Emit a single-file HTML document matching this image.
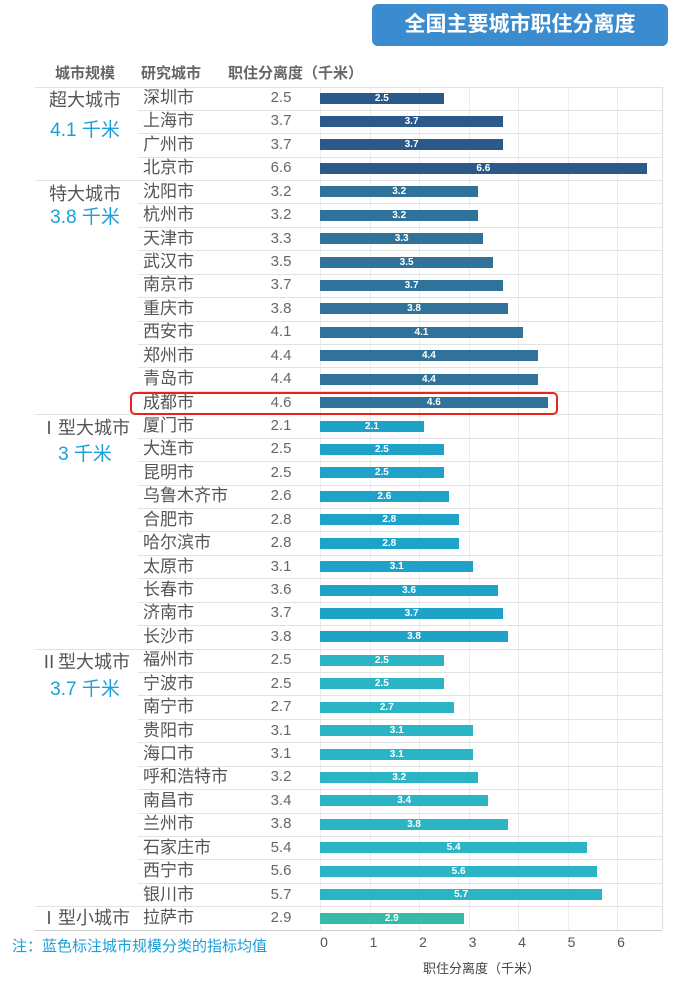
<!DOCTYPE html>
<html><head><meta charset="utf-8"><style>
body{margin:0;width:685px;height:985px;background:#fff;position:relative;overflow:hidden;font-family:"Liberation Sans","Noto Sans CJK SC",sans-serif;}
.a{position:absolute;white-space:nowrap;}
.t{left:372px;top:4px;width:296px;height:42px;background:#3a8ccf;border-radius:6px;color:#fff;font-size:21px;font-weight:bold;text-align:center;line-height:42px;}
.h{top:62px;font-size:15px;font-weight:bold;color:#666;}
.g{font-size:18px;color:#555;width:110px;text-align:center;left:30px;line-height:24px;}
.gv{font-size:19px;color:#1a9fd8;width:110px;text-align:center;left:30px;line-height:24px;}
.c{left:143px;font-size:17px;color:#555;line-height:22px;}
.v{left:260px;width:42px;text-align:center;font-size:15px;color:#666;line-height:20px;}
.b{height:11px;left:320px;color:#fff;font-size:10px;font-weight:bold;text-align:center;line-height:11px;}
.ln{height:1px;background:#e2e2e2;}
.vl{width:1px;background:#ececec;top:87px;height:843px;}
.tk{top:934px;font-size:14px;color:#555;width:20px;text-align:center;}
</style></head><body>
<div class="a t">全国主要城市职住分离度</div>
<div class="a h" style="left:55px">城市规模</div>
<div class="a h" style="left:141px">研究城市</div>
<div class="a h" style="left:228px">职住分离度（千米）</div>
<div id="c"></div>
<div class="a g" style="top:88px">超大城市</div>
<div class="a gv" style="top:119px">4.1 千米</div>
<div class="a g" style="top:182px">特大城市</div>
<div class="a gv" style="top:206px">3.8 千米</div>
<div class="a g" style="top:416px">Ⅰ型大城市</div>
<div class="a gv" style="top:443px">3 千米</div>
<div class="a g" style="top:650px">Ⅱ型大城市</div>
<div class="a gv" style="top:678px">3.7 千米</div>
<div class="a g" style="top:906px">Ⅰ型小城市</div>
<div class="a" style="left:12px;top:935px;font-size:15px;color:#1a9fd8">注：蓝色标注城市规模分类的指标均值</div>
<div class="a" style="left:423px;top:958px;font-size:13px;color:#444">职住分离度（千米）</div>
<div class="a" style="left:130px;top:392px;width:424px;height:19px;border:2.5px solid #e8231c;border-radius:5px"></div>
<script>
var d=[["深圳市",2.5],["上海市",3.7],["广州市",3.7],["北京市",6.6],["沈阳市",3.2],["杭州市",3.2],["天津市",3.3],["武汉市",3.5],["南京市",3.7],["重庆市",3.8],["西安市",4.1],["郑州市",4.4],["青岛市",4.4],["成都市",4.6],["厦门市",2.1],["大连市",2.5],["昆明市",2.5],["乌鲁木齐市",2.6],["合肥市",2.8],["哈尔滨市",2.8],["太原市",3.1],["长春市",3.6],["济南市",3.7],["长沙市",3.8],["福州市",2.5],["宁波市",2.5],["南宁市",2.7],["贵阳市",3.1],["海口市",3.1],["呼和浩特市",3.2],["南昌市",3.4],["兰州市",3.8],["石家庄市",5.4],["西宁市",5.6],["银川市",5.7],["拉萨市",2.9]];
var h="",p=23.43,y0=98,u=49.5;
for(var k=0;k<=6;k++){h+='<div class="a vl" style="left:'+(320+k*u)+'px"></div><div class="a tk" style="left:'+(314+k*u)+'px">'+k+'</div>';}
h+='<div class="a vl" style="left:662px;background:#ddd"></div>';
h+='<div class="a ln" style="left:35px;width:627px;top:87px"></div><div class="a ln" style="left:35px;width:627px;top:930px;background:#ccc"></div>';
var grp=[4,14,24,35];
for(var i=0;i<d.length;i++){
 var y=y0+i*p;
 var col=i<4?"#2b5a8a":i<14?"#30729a":i<24?"#1fa2c8":i<35?"#2bb4c4":"#35bba8";
 h+='<div class="a c" style="top:'+(y-11)+'px">'+d[i][0]+'</div>';
 h+='<div class="a v" style="top:'+(y-10)+'px">'+d[i][1].toFixed(1)+'</div>';
 h+='<div class="a b" style="top:'+(y-5.5)+'px;width:'+(d[i][1]*u)+'px;background:'+col+'">'+d[i][1].toFixed(1)+'</div>';
 if(i>0){var yl=Math.round(y-p/2);var g=grp.indexOf(i)>=0;h+='<div class="a ln" style="top:'+yl+'px;left:'+(g?35:138)+'px;width:'+(g?627:524)+'px"></div>';}
}
document.getElementById("c").innerHTML=h;
</script>
</body></html>
